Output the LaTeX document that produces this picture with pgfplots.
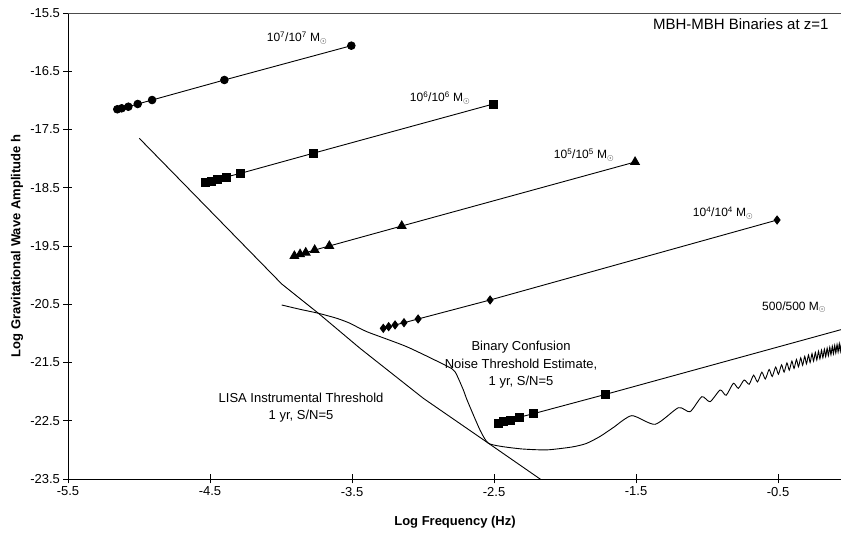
\documentclass[border=0pt]{standalone}
\usepackage{pgfplots}
\pgfplotsset{compat=1.18}
\usepackage{fontspec}
\setmainfont{Liberation Sans}
\begin{document}
\begin{tikzpicture}
\begin{axis}[
  width=774pt, height=466pt, scale only axis,
  xmin=-5.5, xmax=-0.05, ymin=-23.5, ymax=-15.5,
  axis x line*=bottom, axis y line*=left,
  axis line style={-, line width=0.8pt, black},
  xtick={-5.5,-4.5,-3.5,-2.5,-1.5,-0.5},
  xticklabels={-5.5,-4.5,-3.5,-2.5,-1.5,-0.5},
  ytick={-23.5,-22.5,-21.5,-20.5,-19.5,-18.5,-17.5,-16.5,-15.5},
  yticklabels={-23.5,-22.5,-21.5,-20.5,-19.5,-18.5,-17.5,-16.5,-15.5},
  tick align=center, major tick length=9pt,
  tick style={black, line width=0.8pt},
  ticklabel style={font=\fontsize{13}{15}\selectfont},
  every axis x label/.style={at={(axis description cs:0.5,-0.092)},anchor=center},
  every axis y label/.style={at={(axis description cs:-0.0659,0.5)},rotate=90,anchor=center},
  xlabel={\bfseries\fontsize{13}{15}\selectfont Log Frequency (Hz)},
  ylabel={\bfseries\fontsize{13}{15}\selectfont Log Gravitational Wave Amplitude h},
  clip=true,
]
\coordinate (bl) at (rel axis cs:0,0);
\coordinate (tr) at (rel axis cs:1,1);
\draw[black!70, line width=0.8pt] (rel axis cs:0,1) -- (rel axis cs:1,1);

% 10^7/10^7
\addplot[black, line width=0.9pt, mark=*, mark size=3.8pt] coordinates {
(-5.153,-17.153) (-5.122,-17.136) (-5.075,-17.109) (-5.009,-17.062) (-4.908,-16.994) (-4.399,-16.650) (-3.505,-16.061)};
% 10^6/10^6
\addplot[black, line width=0.9pt, mark=square*, mark size=4pt] coordinates {
(-4.530,-18.413) (-4.488,-18.389) (-4.446,-18.355) (-4.387,-18.315) (-4.284,-18.252) (-3.775,-17.909) (-2.505,-17.062)};
% 10^5/10^5
\addplot[black, line width=0.9pt, mark=triangle*, mark size=5pt] coordinates {
(-3.906,-19.672) (-3.866,-19.642) (-3.826,-19.615) (-3.763,-19.569) (-3.660,-19.500) (-3.150,-19.157) (-1.507,-18.058)};
% 10^4/10^4
\addplot[black, line width=0.9pt, mark=diamond*, mark size=4pt] coordinates {
(-3.280,-20.913) (-3.242,-20.885) (-3.197,-20.856) (-3.134,-20.817) (-3.035,-20.753) (-2.528,-20.427) (-0.507,-19.054)};
% 500/500
\addplot[black, line width=0.9pt, mark=square*, mark size=4pt] coordinates {
(-2.470,-22.544) (-2.434,-22.516) (-2.387,-22.487) (-2.324,-22.441) (-2.223,-22.379) (-1.713,-22.046)};
\addplot[black, line width=0.9pt, no marks] coordinates {(-1.713,-22.046) (0.2,-20.764)};

% LISA instrumental threshold
\addplot[black, line width=0.9pt, no marks] coordinates {
(-4.998,-17.651) (-3.995,-20.152) (-3.737,-20.655) (-3.444,-21.256) (-2.998,-22.115) (-2.542,-22.882) (-2.176,-23.500) (-2.10,-23.63)};

% Binary confusion noise threshold
\addplot[black, line width=0.9pt, no marks, smooth, tension=0.4] coordinates {
(-3.995,-20.513) (-3.866,-20.587) (-3.737,-20.655) (-3.608,-20.741) (-3.514,-20.827) (-3.396,-20.971)
(-3.115,-21.229) (-2.833,-21.560) (-2.775,-21.658) (-2.716,-21.972) (-2.690,-22.144) (-2.599,-22.659)
(-2.542,-22.882) (-2.45,-22.94) (-2.30,-22.985) (-2.127,-23.000) (-1.95,-22.95) (-1.85,-22.89)
(-1.754,-22.77) (-1.662,-22.62) (-1.530,-22.413) (-1.366,-22.561) (-1.202,-22.276) (-1.120,-22.345)
(-1.037,-22.087) (-0.979,-22.173) (-0.908,-21.972) (-0.866,-22.063) (-0.815,-21.857) (-0.780,-21.943)
(-0.739,-21.800) (-0.704,-21.874)
(-0.6726,-21.718) (-0.6449,-21.833) (-0.6144,-21.666) (-0.5901,-21.784) (-0.5631,-21.620) (-0.5414,-21.740)
(-0.5171,-21.578) (-0.4976,-21.701) (-0.4756,-21.541) (-0.4578,-21.665) (-0.4377,-21.507) (-0.4214,-21.632)
(-0.4028,-21.476) (-0.3877,-21.602) (-0.3706,-21.447) (-0.3565,-21.574) (-0.3406,-21.420) (-0.3274,-21.548)
(-0.3125,-21.394) (-0.3002,-21.523) (-0.2861,-21.371) (-0.2745,-21.500) (-0.2612,-21.348) (-0.2503,-21.478)
(-0.2377,-21.327) (-0.2273,-21.458) (-0.2154,-21.307) (-0.2055,-21.438) (-0.1942,-21.288) (-0.1847,-21.419)
(-0.1739,-21.270) (-0.1649,-21.401) (-0.1546,-21.252) (-0.1460,-21.384) (-0.1361,-21.236) (-0.1278,-21.368)
(-0.1183,-21.220) (-0.1104,-21.352) (-0.1013,-21.204) (-0.0937,-21.337) (-0.0849,-21.189) (-0.0775,-21.323)
(-0.0691,-21.175) (-0.0620,-21.309) (-0.0538,-21.161) (-0.0470,-21.295) (-0.0391,-21.148) (-0.0325,-21.282)};

\node[font=\fontsize{12}{14}\selectfont] at (axis cs:-3.887,-15.929) {10\textsuperscript{7}/10\textsuperscript{7} M$_\odot$};
\node[font=\fontsize{12}{14}\selectfont] at (axis cs:-2.880,-16.959) {10\textsuperscript{6}/10\textsuperscript{6} M$_\odot$};
\node[font=\fontsize{12}{14}\selectfont] at (axis cs:-1.866,-17.938) {10\textsuperscript{5}/10\textsuperscript{5} M$_\odot$};
\node[font=\fontsize{12}{14}\selectfont] at (axis cs:-0.887,-18.933) {10\textsuperscript{4}/10\textsuperscript{4} M$_\odot$};
\node[font=\fontsize{12}{14}\selectfont] at (axis cs:-0.387,-20.547) {500/500 M$_\odot$};
\node[font=\fontsize{15}{17}\selectfont, anchor=east] at (axis cs:-0.120,-15.689) {MBH-MBH Binaries at z=1};
\node[font=\fontsize{13}{17.5}\selectfont, align=center] at (axis cs:-2.310,-21.543) {Binary Confusion\\Noise Threshold Estimate,\\1 yr, S/N=5};
\node[font=\fontsize{13}{17}\selectfont, align=center] at (axis cs:-3.859,-22.281) {LISA Instrumental Threshold\\1 yr, S/N=5};
\end{axis}
\pgfresetboundingbox
\path[use as bounding box] ([shift={(-68pt,-55pt)}]bl) rectangle ([shift={(-1pt,13pt)}]tr);
\end{tikzpicture}
\end{document}
